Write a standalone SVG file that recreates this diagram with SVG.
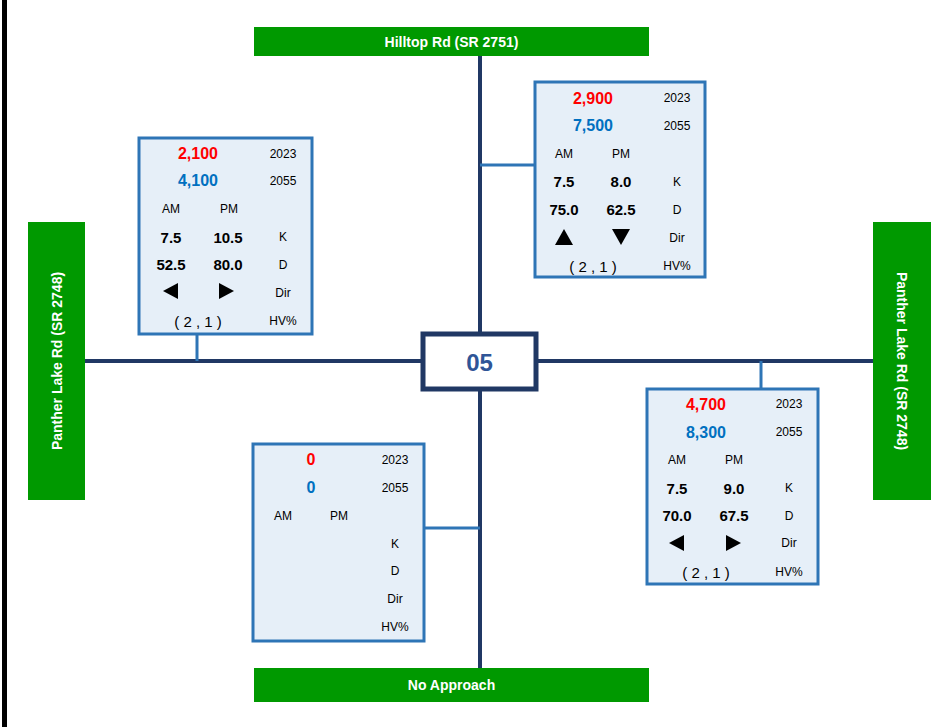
<svg xmlns="http://www.w3.org/2000/svg" width="938" height="727" viewBox="0 0 938 727">
<style>
.road{stroke:#203864;stroke-width:4;fill:none}
.conn{stroke:#2E75B6;stroke-width:3;fill:none}
.box{fill:#E6EFF8;stroke:#2E75B6;stroke-width:3}
.green{fill:#009900}
.gt{font-family:"Liberation Sans",Arial,sans-serif;font-size:14px;font-weight:bold;fill:#fff;text-anchor:middle;dominant-baseline:central}
.t{font-family:"Liberation Sans",Arial,sans-serif;font-size:12px;fill:#000;text-anchor:middle;dominant-baseline:central}
.b{font-family:"Liberation Sans",Arial,sans-serif;font-size:15px;font-weight:bold;fill:#000;text-anchor:middle;dominant-baseline:central}
.red{font-family:"Liberation Sans",Arial,sans-serif;font-size:16px;font-weight:bold;fill:#FF0000;text-anchor:middle;dominant-baseline:central}
.blue{font-family:"Liberation Sans",Arial,sans-serif;font-size:16px;font-weight:bold;fill:#0070C0;text-anchor:middle;dominant-baseline:central}
.hv{font-family:"Liberation Sans",Arial,sans-serif;font-size:15px;fill:#000;text-anchor:middle;dominant-baseline:central}
.tri{fill:#000}
</style>
<rect x="2" y="0" width="5" height="727" fill="#000"/>
<g id="connectors">
<line class="road" x1="480" y1="56" x2="480" y2="668"/>
<line class="road" x1="85" y1="361" x2="873" y2="361"/>
<line class="conn" x1="197" y1="335" x2="197" y2="361"/>
<line class="conn" x1="480" y1="165" x2="534" y2="165"/>
<line class="conn" x1="761" y1="361" x2="761" y2="388"/>
<line class="conn" x1="425" y1="528" x2="480" y2="528"/>
</g>
<g id="road-north"><rect class="green" x="254" y="27" width="395" height="29"/><text class="gt" x="451.5" y="42">Hilltop Rd (SR 2751)</text></g>
<g id="road-south"><rect class="green" x="254" y="668" width="395" height="34"/><text class="gt" x="451.5" y="685">No Approach</text></g>
<g id="road-west"><rect class="green" x="28" y="222" width="57" height="278"/><text class="gt" transform="translate(57,361) rotate(-90)">Panther Lake Rd (SR 2748)</text></g>
<g id="road-east"><rect class="green" x="873" y="222" width="58" height="278"/><text class="gt" transform="translate(902,361) rotate(90)">Panther Lake Rd (SR 2748)</text></g>
<g id="center"><rect x="423" y="334" width="113" height="55" fill="#fff" stroke="#203864" stroke-width="5"/><text x="479.5" y="362" font-family="Liberation Sans,Arial,sans-serif" font-size="24" font-weight="bold" fill="#2F5597" text-anchor="middle" dominant-baseline="central">05</text></g>
<g id="box-west">
<rect class="box" x="139" y="138" width="173" height="196"/>
<text class="red" x="198" y="153">2,100</text><text class="t" x="283" y="154">2023</text>
<text class="blue" x="198" y="180">4,100</text><text class="t" x="283" y="181">2055</text>
<text class="t" x="171" y="209">AM</text><text class="t" x="229" y="209">PM</text>
<text class="b" x="171" y="237">7.5</text><text class="b" x="228" y="237">10.5</text><text class="t" x="283" y="237">K</text>
<text class="b" x="171" y="264">52.5</text><text class="b" x="228" y="264">80.0</text><text class="t" x="283" y="265">D</text>
<polygon class="tri" points="163,291 178,283 178,299"/><polygon class="tri" points="219,283 234,291 219,299"/><text class="t" x="283" y="293">Dir</text>
<text class="hv" x="198" y="321">( 2 , 1 )</text><text class="t" x="283" y="321">HV%</text>
</g>
<g id="box-north">
<rect class="box" x="535" y="82" width="170" height="195"/>
<text class="red" x="593" y="98">2,900</text><text class="t" x="677" y="98">2023</text>
<text class="blue" x="593" y="125">7,500</text><text class="t" x="677" y="126">2055</text>
<text class="t" x="564" y="154">AM</text><text class="t" x="621" y="154">PM</text>
<text class="b" x="564" y="181">7.5</text><text class="b" x="621" y="181">8.0</text><text class="t" x="677" y="182">K</text>
<text class="b" x="564" y="209">75.0</text><text class="b" x="621" y="209">62.5</text><text class="t" x="677" y="210">D</text>
<polygon class="tri" points="564,229 573,245 555,245"/><polygon class="tri" points="612,229 630,229 621,245"/><text class="t" x="677" y="238">Dir</text>
<text class="hv" x="593" y="266">( 2 , 1 )</text><text class="t" x="677" y="266">HV%</text>
</g>
<g id="box-east">
<rect class="box" x="647" y="389" width="171" height="195"/>
<text class="red" x="706" y="404">4,700</text><text class="t" x="789" y="404">2023</text>
<text class="blue" x="706" y="432">8,300</text><text class="t" x="789" y="432">2055</text>
<text class="t" x="677" y="460">AM</text><text class="t" x="734" y="460">PM</text>
<text class="b" x="677" y="488">7.5</text><text class="b" x="734" y="488">9.0</text><text class="t" x="789" y="488">K</text>
<text class="b" x="677" y="515">70.0</text><text class="b" x="734" y="515">67.5</text><text class="t" x="789" y="516">D</text>
<polygon class="tri" points="669,543 684,535 684,551"/><polygon class="tri" points="726,535 741,543 726,551"/><text class="t" x="789" y="543">Dir</text>
<text class="hv" x="706" y="572">( 2 , 1 )</text><text class="t" x="789" y="572">HV%</text>
</g>
<g id="box-south">
<rect class="box" x="253" y="444" width="171" height="197"/>
<text class="red" x="311" y="459">0</text><text class="t" x="395" y="460">2023</text>
<text class="blue" x="311" y="487">0</text><text class="t" x="395" y="488">2055</text>
<text class="t" x="283" y="516">AM</text><text class="t" x="339" y="516">PM</text>
<text class="t" x="395" y="544">K</text>
<text class="t" x="395" y="571">D</text>
<text class="t" x="395" y="599">Dir</text>
<text class="t" x="395" y="627">HV%</text>
</g>
</svg>
